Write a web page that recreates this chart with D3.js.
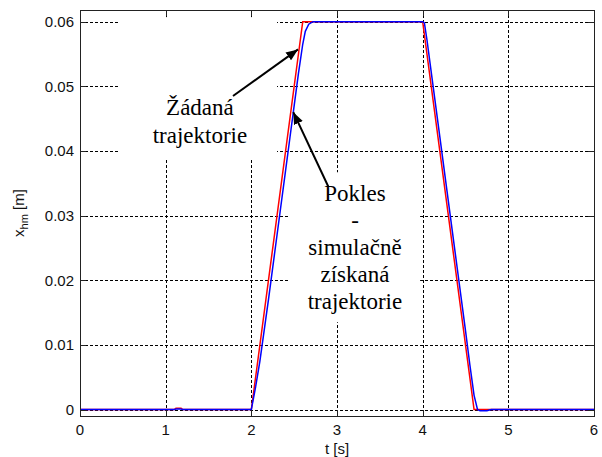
<!DOCTYPE html>
<html>
<head>
<meta charset="utf-8">
<script src="https://cdn.jsdelivr.net/npm/d3@7"></script>
<style>
  body { margin: 0; background: #fff; }
  svg { display: block; }
</style>
</head>
<body>
<script>
// Data
var tRef = [0, 1.1, 1.12, 1.18, 1.2, 2.0, 2.6, 4.0, 4.6, 6];
var xRef = [0, 0, 0.0002, 0.0002, 0, 0, 0.06, 0.06, 0, 0];

var tSim = [0, 1.1, 1.13, 1.17, 1.2, 2.0, 2.05, 2.1, 2.2, 2.3, 2.4, 2.45, 2.5, 2.55, 2.6, 2.63, 2.67, 2.72,
            4.0, 4.02, 4.05, 4.1, 4.2, 4.3, 4.4, 4.5, 4.55, 4.6, 4.64, 4.67, 4.75, 4.8, 6];
var xSim = [0, 0, 0.0001, 0.0001, 0, 0, 0.0035, 0.0075, 0.017, 0.027, 0.037, 0.042, 0.047, 0.052, 0.0565, 0.0585, 0.0596, 0.06,
            0.06, 0.0598, 0.0572, 0.0522, 0.0422, 0.0322, 0.0222, 0.0122, 0.007, 0.0022, 0, -0.0002, -0.0002, 0, 0];

var xTicks = [0, 1, 2, 3, 4, 5, 6];
var yTicks = [0, 0.01, 0.02, 0.03, 0.04, 0.05, 0.06];

var note1 = ["Žádaná", "trajektorie"];
var note2 = ["Pokles", "-", "simulačně", "získaná", "trajektorie"];

// Set up scales
var x = d3.scaleLinear().domain([0, 6]).range([80, 594]);
var y = d3.scaleLinear().domain([-0.001, 0.0618]).range([416, 10]);

var svg = d3.select("body").append("svg")
    .attr("width", 602)
    .attr("height", 457);

// Grid
var grid = svg.append("g")
    .attr("stroke", "#000")
    .attr("stroke-width", 1)
    .attr("stroke-dasharray", "3,2");

grid.selectAll(".gx")
    .data(xTicks.slice(1, -1))
    .enter().append("line")
    .attr("x1", function(d) { return Math.round(x(d)) + 0.5; })
    .attr("x2", function(d) { return Math.round(x(d)) + 0.5; })
    .attr("y1", y.range()[1])
    .attr("y2", y.range()[0]);

grid.selectAll(".gy")
    .data(yTicks)
    .enter().append("line")
    .attr("x1", x.range()[0])
    .attr("x2", x.range()[1])
    .attr("y1", function(d) { return Math.round(y(d)) + 0.5; })
    .attr("y2", function(d) { return Math.round(y(d)) + 0.5; });

// White boxes behind annotations
svg.append("rect")
    .attr("x", x(0.444)).attr("y", y(0.0607))
    .attr("width", x(2.3) - x(0.444))
    .attr("height", y(0.0387) - y(0.0607))
    .attr("fill", "#fff");

svg.append("rect")
    .attr("x", x(2.45)).attr("y", y(0.0367))
    .attr("width", x(3.97) - x(2.45))
    .attr("height", y(0.0135) - y(0.0367))
    .attr("fill", "#fff");

// Lines
var line = d3.line()
    .x(function(d) { return x(d[0]); })
    .y(function(d) { return y(d[1]); });

svg.append("path")
    .attr("d", line(tRef.map(function(t, i) { return [t, xRef[i]]; })))
    .attr("fill", "none")
    .attr("stroke", "#ff0000")
    .attr("stroke-width", 1.5);

svg.append("path")
    .attr("d", line(tSim.map(function(t, i) { return [t, xSim[i]]; })))
    .attr("fill", "none")
    .attr("stroke", "#0000ff")
    .attr("stroke-width", 1.5);

// Axes box with inward ticks
var axisColor = "#222";
svg.append("rect")
    .attr("x", x.range()[0] + 0.5).attr("y", y.range()[1] + 0.5)
    .attr("width", x.range()[1] - x.range()[0])
    .attr("height", y.range()[0] - y.range()[1])
    .attr("fill", "none")
    .attr("stroke", axisColor);

var ax = svg.append("g").attr("stroke", axisColor);
xTicks.forEach(function(d) {
    var px = Math.round(x(d)) + 0.5;
    ax.append("line").attr("x1", px).attr("x2", px).attr("y1", y.range()[0]).attr("y2", y.range()[0] - 6);
    ax.append("line").attr("x1", px).attr("x2", px).attr("y1", y.range()[1]).attr("y2", y.range()[1] + 6);
});
yTicks.forEach(function(d) {
    var py = Math.round(y(d)) + 0.5;
    ax.append("line").attr("x1", x.range()[0]).attr("x2", x.range()[0] + 6).attr("y1", py).attr("y2", py);
    ax.append("line").attr("x1", x.range()[1]).attr("x2", x.range()[1] - 6).attr("y1", py).attr("y2", py);
});

// Tick labels
svg.selectAll(".xl")
    .data(xTicks)
    .enter().append("text")
    .attr("x", function(d) { return x(d); })
    .attr("y", 435)
    .attr("text-anchor", "middle")
    .style("font-family", "Liberation Sans, Arial, sans-serif")
    .style("font-size", "15px")
    .style("fill", "#111")
    .text(function(d) { return d; });

svg.selectAll(".yl")
    .data(yTicks)
    .enter().append("text")
    .attr("x", 74)
    .attr("y", function(d) { return y(d); })
    .attr("dy", "0.36em")
    .attr("text-anchor", "end")
    .style("font-family", "Liberation Sans, Arial, sans-serif")
    .style("font-size", "15px")
    .style("fill", "#111")
    .text(function(d) { return d; });

// Axis titles
svg.append("text")
    .attr("x", 337)
    .attr("y", 454)
    .attr("text-anchor", "middle")
    .style("font-family", "Liberation Sans, Arial, sans-serif")
    .style("font-size", "15px")
    .style("fill", "#111")
    .text("t [s]");

var yl = svg.append("text")
    .attr("transform", "translate(24,213) rotate(-90)")
    .attr("text-anchor", "middle")
    .style("font-family", "Liberation Sans, Arial, sans-serif")
    .style("font-size", "15px")
    .style("fill", "#111");
yl.append("tspan").text("x");
yl.append("tspan").attr("dy", 4).style("font-size", "11px").text("hm");
yl.append("tspan").attr("dy", -4).text(" [m]");

// Arrows
svg.append("defs").append("marker")
    .attr("id", "head")
    .attr("viewBox", "0 0 10 8")
    .attr("refX", 10).attr("refY", 4)
    .attr("markerWidth", 12).attr("markerHeight", 10)
    .attr("markerUnits", "userSpaceOnUse")
    .attr("orient", "auto")
    .append("path")
    .attr("d", "M0,0 L10,4 L0,8 Z")
    .attr("fill", "#000");

var arrows = [
    [1.786, 0.0485, 2.545, 0.0557],
    [2.898, 0.0345, 2.49, 0.046]
];
svg.selectAll(".arrow")
    .data(arrows)
    .enter().append("line")
    .attr("x1", function(d) { return x(d[0]); })
    .attr("y1", function(d) { return y(d[1]); })
    .attr("x2", function(d) { return x(d[2]); })
    .attr("y2", function(d) { return y(d[3]); })
    .attr("stroke", "#000")
    .attr("stroke-width", 2)
    .attr("marker-end", "url(#head)");

// Annotation texts
svg.selectAll(".n1")
    .data(note1)
    .enter().append("text")
    .attr("x", x(1.4))
    .attr("y", function(d, i) { return 115 + i * 28; })
    .attr("text-anchor", "middle")
    .style("font-family", "Liberation Serif, Times New Roman, serif")
    .style("font-size", "23px")
    .text(function(d) { return d; });

svg.selectAll(".n2")
    .data(note2)
    .enter().append("text")
    .attr("x", x(3.21))
    .attr("y", function(d, i) { return 201 + i * 27; })
    .attr("text-anchor", "middle")
    .style("font-family", "Liberation Serif, Times New Roman, serif")
    .style("font-size", "23px")
    .text(function(d) { return d; });
</script>
</body>
</html>
